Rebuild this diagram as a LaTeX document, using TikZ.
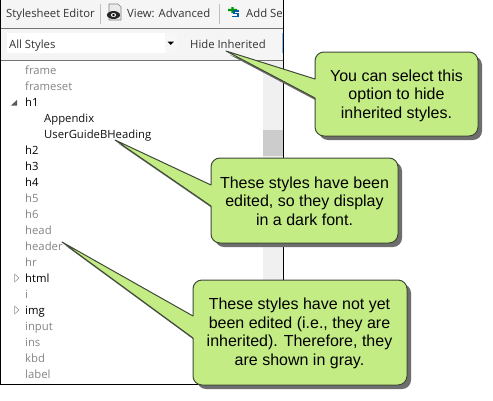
\documentclass[tikz,border=0pt]{standalone}
\usepackage{fontspec}
\setmainfont{Liberation Sans}
\newfontfamily\uifont{Open Sans}
\usetikzlibrary{calc}
\definecolor{cgreen}{HTML}{C4EC85}
\definecolor{cedge}{HTML}{3F4A38}
\definecolor{cshadow}{HTML}{6E6E6E}
\definecolor{grayt}{HTML}{858585}
\definecolor{darkt}{HTML}{101010}
\tikzset{
  x=1pt,y=-1pt,
  item/.style={anchor=base west,inner sep=0pt,font=\uifont\fontsize{11.3}{12}\selectfont,text=grayt},
  edited/.style={item,text=black},
  child/.style={item,text=darkt},
  tool/.style={anchor=base west,inner sep=0pt,font=\uifont\fontsize{11.3}{12}\selectfont,text=black!80},
  note/.style={align=center,inner sep=0pt,font=\fontsize{16}{18.5}\selectfont,text=black},
  balloon/.style={fill=cgreen,draw=cedge,line width=1pt,line join=round},
  shadowfill/.style={fill=cshadow,draw=none},
}
\newcommand{\balloonpath}[8]{
  (#1+9,#2) -- (#3-9,#2) arc[start angle=-90,end angle=0,radius=9]
  -- (#3,#4-9) arc[start angle=0,end angle=90,radius=9]
  -- (#1+9,#4) arc[start angle=90,end angle=180,radius=9]
  -- (#1,#8) -- (#5,#6) -- (#1,#7) -- (#1,#2+9) arc[start angle=180,end angle=270,radius=9] -- cycle
}
\begin{document}
\begin{tikzpicture}
\useasboundingbox (0,0) rectangle (493,400);
\fill[white] (0,0) rectangle (493,400);
% panel
\fill[white] (1,0) rectangle (283,384);
\fill[black!4] (1,0) rectangle (283,60);
\fill[white] (7,33) rectangle (177,53);
\fill[black!3] (165,33) rectangle (177,53);
\fill[black] (167.5,41.5) -- (174,41.5) -- (170.75,45) -- cycle;
\fill[blue!45!cyan!55] (281.5,33) rectangle (282.5,53);
\draw[black!55,line width=0.8pt] (1,28) -- (283,28);
\draw[black!55,line width=1pt] (1,60.5) -- (283,60.5);
\draw[black!25] (100.5,4) -- (100.5,24);
\draw[black!25] (219.5,4) -- (219.5,24);
% scrollbar
\fill[black!6] (263,61) rectangle (283,384);
\fill[black!20] (263,130) rectangle (283,156);
\begin{scope}
\clip (1,0) rectangle (282.5,60);
\node[tool] (t1) at (6,17) {Stylesheet Editor};
\node[tool] (t2) at (127,17) {View: Advanced};
\node[tool] (t3) at (246,17) {Add Se};
\node[tool] (t4) at (9,48) {All Styles};
\node[tool] (t5) at (190,48) {Hide Inherited};
\end{scope}
% toolbar icons
\fill[black!8] (109,4) -- (118,4) -- (121,7) -- (121,20) -- (109,20) -- cycle;
\draw[black!50,line width=0.6pt] (109,4) -- (118,4) -- (121,7) -- (121,20) -- (109,20) -- cycle;
\fill[black!85] (113.5,15) ellipse[x radius=6.5,y radius=4];
\fill[white] (113.5,15) ellipse[x radius=2.6,y radius=2];
\fill[black] (113.5,15) circle[radius=1.3];
\fill[green!60!black] (228,8.8) rectangle (237,11.2) (231.3,7) rectangle (233.7,13);
\draw[teal!70!blue,line width=1.5pt] (239,11) -- (234,11) -- (234,13.5) -- (238,13.5) -- (238,16.5) -- (232,16.5);
% list
\node[item]  (frame) at (25,74) {frame};
\node[item]  (frameset) at (25,90) {frameset};
\fill[black!65] (17,100) -- (11,105.5) -- (17,105.5) -- cycle;
\node[edited] (h1) at (25,106) {h1};
\node[child] (app) at (44,122) {Appendix};
\node[child] (ugb) at (44,138) {UserGuideBHeading};
\node[edited] (h2) at (25,154) {h2};
\node[edited] (h3) at (25,170) {h3};
\node[edited] (h4) at (25,186) {h4};
\node[item] (h5) at (25,202) {h5};
\node[item] (h6) at (25,218) {h6};
\node[item] (head) at (25,234) {head};
\node[item] (header) at (25,250) {header};
\node[item] (hr) at (25,266) {hr};
\draw[black!45,line width=0.5pt] (14.5,274) -- (19,278) -- (14.5,282) -- cycle;
\node[edited] (html) at (25,282) {html};
\node[item] (i) at (25,298) {i};
\draw[black!45,line width=0.5pt] (14.5,306) -- (19,310) -- (14.5,314) -- cycle;
\node[edited] (img) at (25,314) {img};
\node[item] (input) at (25,330) {input};
\node[item] (ins) at (25,346) {ins};
\node[item] (kbd) at (25,362) {kbd};
\node[item] (label) at (25,378) {label};
% frame
\draw[black,line width=1pt] (0.5,0) -- (0.5,384.5) -- (283.5,384.5) -- (283.5,0);
% callouts
\begin{scope}[shift={(4,4)}]
\fill[shadowfill] \balloonpath{315}{52}{478}{136}{226}{51}{79}{98};
\fill[shadowfill] \balloonpath{211}{158}{398}{243}{115}{140}{185}{206};
\fill[shadowfill] \balloonpath{193}{280}{407}{385}{62}{242}{316}{338};
\end{scope}
\draw[balloon] \balloonpath{315}{52}{478}{136}{226}{51}{79}{98};
\node[note] (n1) at (396.5,95.5) {You can select this\\option to hide\\inherited styles.};
\draw[balloon] \balloonpath{211}{158}{398}{243}{115}{140}{185}{206};
\node[note] (n2) at (304.5,201) {These styles have been\\edited, so they display\\in a dark font.};
\draw[balloon] \balloonpath{193}{280}{407}{385}{62}{242}{316}{338};
\node[note] (n3) at (299.5,333.5) {These styles have not yet\\been edited (i.e., they are\\inherited). Therefore, they\\are shown in gray.};
\end{tikzpicture}
\end{document}
